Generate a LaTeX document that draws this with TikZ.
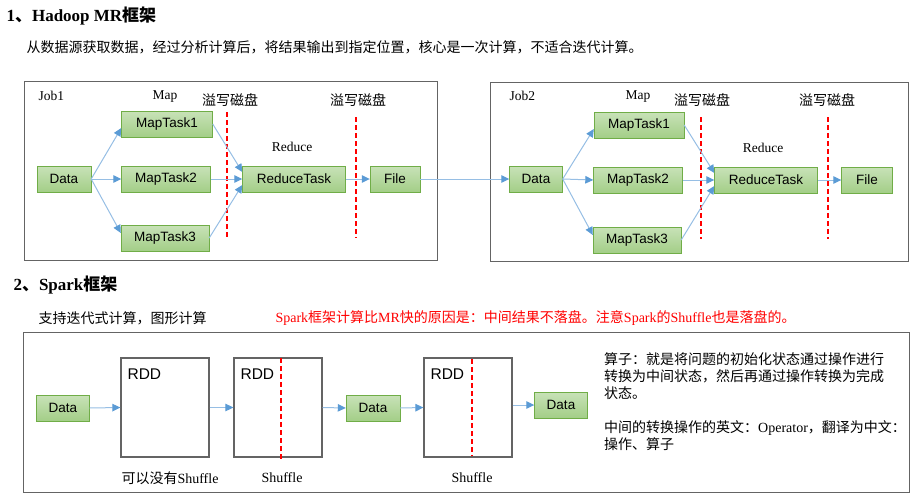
\documentclass[tikz,border=0pt]{standalone}
\usepackage{fontspec}
\setmainfont{Liberation Serif}
\setsansfont{Liberation Sans}
\newfontfamily\cjk{Noto Sans CJK SC}
\usetikzlibrary{arrows.meta}
\definecolor{boxgreen}{RGB}{112,173,71}
\definecolor{topgreen}{RGB}{200,226,184}
\definecolor{botgreen}{RGB}{163,206,135}
\definecolor{flowblue}{RGB}{91,155,213}
\definecolor{linkblue}{RGB}{150,190,228}
\definecolor{framegray}{RGB}{100,100,100}
\newcommand{\zh}[1]{{\cjk #1}}

\begin{document}
\begin{tikzpicture}[x=1pt,y=-1pt,
    task/.style={draw=boxgreen,top color=topgreen,bottom color=botgreen,
      font=\sffamily\fontsize{13.5}{15}\selectfont,minimum height=26pt,inner sep=0pt},
    rdd/.style={draw=framegray,line width=1.2pt,minimum width=88pt,minimum height=99pt},
    flow/.style={draw=linkblue,line width=1pt,
      -{Triangle[length=8pt,width=7.5pt,color=flowblue]}},
    spill/.style={red,line width=1.2pt,dash pattern=on 5pt off 3pt},
    jobframe/.style={draw=framegray,line width=1pt},
    lbl/.style={font=\fontsize{13.5}{15}\selectfont},
    txt/.style={font=\fontsize{14}{17}\selectfont},
    zhlbl/.style={font=\cjk\fontsize{14}{17}\selectfont},
    heading/.style={anchor=west,font=\bfseries\fontsize{17}{20}\selectfont}]
  \useasboundingbox (0,0) rectangle (911,498);

  \node[heading] (t1) at (3,16) {1\zh{、}Hadoop MR\zh{框架}};
  \node[zhlbl,anchor=west] (s1) at (23,47) {从数据源获取数据，经过分析计算后，将结果输出到指定位置，核心是一次计算，不适合迭代计算。};

  \draw[jobframe] (24,81) rectangle (437,260);
  \node[lbl,anchor=west] (j1) at (35,96) {Job1};
  \node[lbl] (map1) at (165,97) {Map};
  \node[zhlbl] (sp11) at (230,100) {溢写磁盘};
  \node[zhlbl] (sp12) at (358,100) {溢写磁盘};
  \node[lbl] (red1) at (292,147) {Reduce};
  \node[task,minimum width=54pt] (d1) at (64,179) {Data};
  \node[task,minimum width=91pt] (m11) at (167,124) {MapTask1};
  \node[task,minimum width=89pt] (m12) at (166,179) {MapTask2};
  \node[task,minimum width=88pt] (m13) at (165,238) {MapTask3};
  \node[task,minimum width=103pt] (r1) at (294,179) {ReduceTask};
  \node[task,minimum width=50pt] (f1) at (395,179) {File};
  \draw[spill] (227,112) -- (227,237);
  \draw[spill] (356,117) -- (356,238);
  \draw[flow] (d1.east) -- ([yshift=-4pt]m11.west);
  \draw[flow] (d1.east) -- (m12.west);
  \draw[flow] (d1.east) -- ([yshift=5pt]m13.west);
  \draw[flow] (m11.east) -- ([yshift=7pt]r1.west);
  \draw[flow] (m12.east) -- (r1.west);
  \draw[flow] (m13.east) -- ([yshift=-6pt]r1.west);
  \draw[flow] (r1.east) -- (f1.west);

  \draw[jobframe] (490,82) rectangle (908,261);
  \node[lbl,anchor=west] (j2) at (506,96) {Job2};
  \node[lbl] (map2) at (638,97) {Map};
  \node[zhlbl] (sp21) at (702,100) {溢写磁盘};
  \node[zhlbl] (sp22) at (827,100) {溢写磁盘};
  \node[lbl] (red2) at (763,148) {Reduce};
  \node[task,minimum width=53pt] (d2) at (536,179) {Data};
  \node[task,minimum width=90pt] (m21) at (639,125) {MapTask1};
  \node[task,minimum width=89pt] (m22) at (638,180) {MapTask2};
  \node[task,minimum width=88pt] (m23) at (637,240) {MapTask3};
  \node[task,minimum width=103pt] (r2) at (766,180) {ReduceTask};
  \node[task,minimum width=51pt] (f2) at (867,180) {File};
  \draw[spill] (701,117) -- (701,239);
  \draw[spill] (828,117) -- (828,239);
  \draw[flow] (d2.east) -- ([yshift=-4pt]m21.west);
  \draw[flow] (d2.east) -- (m22.west);
  \draw[flow] (d2.east) -- ([yshift=5pt]m23.west);
  \draw[flow] (m21.east) -- ([yshift=7pt]r2.west);
  \draw[flow] (m22.east) -- (r2.west);
  \draw[flow] (m23.east) -- ([yshift=-6pt]r2.west);
  \draw[flow] (r2.east) -- (f2.west);
  \draw[flow] (f1.east) -- (d2.west);

  \node[heading] (t2) at (10,285) {2\zh{、}Spark\zh{框架}};
  \node[zhlbl,anchor=west] (s2) at (35,318) {支持迭代式计算，图形计算};
  \node[txt,anchor=west,text=red] (why) at (272,318) {Spark\zh{框架计算比}MR\zh{快的原因是：中间结果不落盘。注意}Spark\zh{的}Shuffle\zh{也是落盘的。}};

  \draw[jobframe] (23,332) rectangle (909,492);
  \node[task,minimum width=53pt] (sd1) at (63,408) {Data};
  \node[rdd] (rdd1) at (165,407.5) {};
  \node[rdd] (rdd2) at (278,407.5) {};
  \node[task,minimum width=54pt] (sd2) at (373,408) {Data};
  \node[rdd] (rdd3) at (468,407.5) {};
  \node[task,minimum width=53pt] (sd3) at (561,405) {Data};
  \node[font=\sffamily\fontsize{15.5}{17}\selectfont,anchor=north west,inner sep=0pt] (rl1) at ([xshift=7pt,yshift=-11pt]rdd1.north west) {RDD};
  \node[font=\sffamily\fontsize{15.5}{17}\selectfont,anchor=north west,inner sep=0pt] (rl2) at ([xshift=7pt,yshift=-11pt]rdd2.north west) {RDD};
  \node[font=\sffamily\fontsize{15.5}{17}\selectfont,anchor=north west,inner sep=0pt] (rl3) at ([xshift=7pt,yshift=-11pt]rdd3.north west) {RDD};
  \draw[spill] (281,358) -- (281,460);
  \draw[spill] (472,359) -- (472,456);
  \draw[flow] (sd1.east) -- (rdd1.west);
  \draw[flow] (rdd1.east) -- (rdd2.west);
  \draw[flow] (rdd2.east) -- (sd2.west);
  \draw[flow] (sd2.east) -- (rdd3.west);
  \draw[flow] (rdd3.east |- sd3.west) -- (sd3.west);
  \node[txt] (n1) at (170,478) {\zh{可以没有}Shuffle};
  \node[txt] (n2) at (282,478) {Shuffle};
  \node[txt] (n3) at (472,478) {Shuffle};

  \node[txt,anchor=north west,align=left,inner sep=0pt] (op) at (604,352) {\zh{算子：就是将问题的初始化状态通过操作进行}\\
    \zh{转换为中间状态，然后再通过操作转换为完成}\\
    \zh{状态。}\\[17pt]
    \zh{中间的转换操作的英文：}Operator\zh{，翻译为中文：}\\
    \zh{操作、算子}};
\end{tikzpicture}
\end{document}
